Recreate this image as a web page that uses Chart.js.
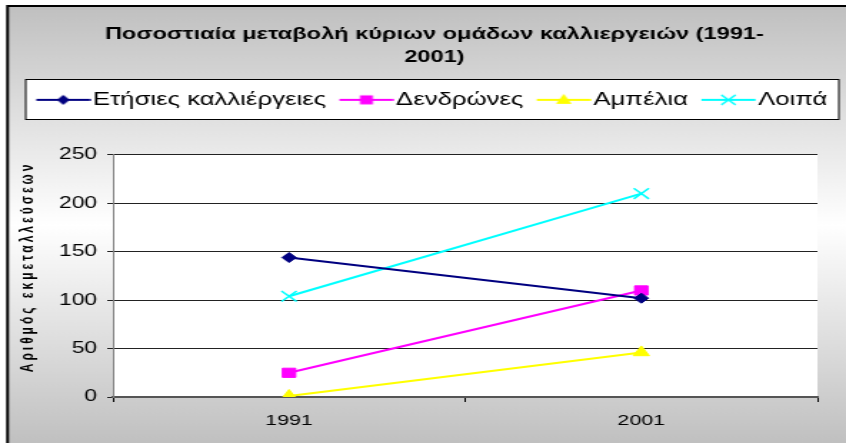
<!DOCTYPE html>
<html>
<head>
<meta charset="utf-8">
<script src="https://cdn.jsdelivr.net/npm/chart.js@4"></script>
<style>
  html, body { margin: 0; padding: 0; background: #fff; }
</style>
</head>
<body>
<!-- the original picture is stretched sideways, so the canvas is drawn narrow and widened by CSS -->
<canvas id="myChart" width="592" height="443" style="width:846px;height:443px;display:block"></canvas>
<script>
// data
var years = ['1991', '2001'];
var seriesNames = ['Ετήσιες καλλιέργειες', 'Δενδρώνες', 'Αμπέλια', 'Λοιπά'];
var annualCrops = [144, 102];
var orchards = [25, 110];
var vineyards = [1, 46];
var others = [104, 210];
var yTicks = [0, 50, 100, 150, 200, 250];

var seriesColors = ['#000080', '#ff00ff', '#ffff00', '#00ffff'];
var seriesMarkers = ['rectRot', 'rect', 'triangle', 'crossRot'];
var markerRadius = [5, 6.5, 6.5, 7.5];
var FONT = "'Liberation Sans', Arial, sans-serif";

// little "line + marker" picture for the legend
function legendIcon(color, marker) {
    var c = document.createElement('canvas');
    c.width = 55;
    c.height = 20;
    var g = c.getContext('2d');
    g.strokeStyle = color;
    g.fillStyle = color;
    g.lineWidth = 2;
    g.beginPath();
    g.moveTo(16.9, 10);
    g.lineTo(54.7, 10);
    g.stroke();
    var x = 35.8, y = 10;
    g.beginPath();
    if (marker === 'rectRot') {
        g.moveTo(x - 4.5, y); g.lineTo(x, y - 5); g.lineTo(x + 4.5, y); g.lineTo(x, y + 5);
        g.closePath(); g.fill();
    } else if (marker === 'rect') {
        g.fillRect(x - 4.5, y - 4.5, 9, 9);
    } else if (marker === 'triangle') {
        g.moveTo(x, y - 6); g.lineTo(x + 5.5, y + 4); g.lineTo(x - 5.5, y + 4);
        g.closePath(); g.fill();
    } else {
        g.lineWidth = 1.5;
        g.moveTo(x - 5, y - 5); g.lineTo(x + 5, y + 5);
        g.moveTo(x + 5, y - 5); g.lineTo(x - 5, y + 5);
        g.stroke();
    }
    return c;
}

var allSeries = [annualCrops, orchards, vineyards, others];
var datasets = [];
for (var i = 0; i < allSeries.length; i++) {
    datasets.push({
        label: seriesNames[i],
        data: allSeries[i],
        borderColor: seriesColors[i],
        backgroundColor: seriesColors[i],
        borderWidth: 2,
        pointStyle: seriesMarkers[i],
        pointRadius: markerRadius[i],
        pointBorderWidth: seriesMarkers[i] === 'crossRot' ? 1.5 : 1,
        pointHoverRadius: markerRadius[i],
        tension: 0
    });
}

// grey gradient, frame, white plot area and the legend box
var chartBackground = {
    id: 'chartBackground',
    beforeInit: function (chart) {
        // extra room under the legend
        var originalFit = chart.legend.fit;
        chart.legend.fit = function () {
            originalFit.bind(chart.legend)();
            this.height += 36;
        };
    },
    afterLayout: function (chart) {
        // the axis title is spread out and sits a little higher, like in the original
        var s = chart.scales.y;
        if (!s._spread) {
            var drawTitle = s.drawTitle;
            s.drawTitle = function () {
                var c = this.ctx;
                c.save();
                c.translate(0, -9);
                c.letterSpacing = '3px';
                drawTitle.apply(this, arguments);
                c.restore();
                c.letterSpacing = '0px';
            };
            s._spread = true;
        }
    },
    beforeDraw: function (chart) {
        var ctx = chart.ctx, w = chart.width, h = chart.height;
        ctx.save();
        ctx.fillStyle = '#ffffff';
        ctx.fillRect(0, 0, w, h);
        var grad = ctx.createLinearGradient(0, 7, 0, h);
        grad.addColorStop(0, '#c0c0c0');
        grad.addColorStop(0.5, '#ffffff');
        grad.addColorStop(1, '#c0c0c0');
        ctx.fillStyle = grad;
        ctx.fillRect(6, 7, w - 6, h - 7);
        ctx.strokeStyle = '#000';
        ctx.lineWidth = 2;
        ctx.beginPath();
        ctx.moveTo(5.3, h);
        ctx.lineTo(5.3, 6);
        ctx.lineTo(w, 6);
        ctx.stroke();

        var a = chart.chartArea;
        ctx.fillStyle = '#ffffff';
        ctx.fillRect(a.left, a.top, a.right - a.left, a.bottom - a.top);

        var boxes = chart.legend.legendHitBoxes;
        if (boxes && boxes.length) {
            var first = boxes[0], last = boxes[boxes.length - 1];
            var left = first.left + 2;
            var right = last.left + last.width + 8;
            var top = Math.round(first.top - 12) + 0.5;
            ctx.fillStyle = '#ffffff';
            ctx.fillRect(left, top, right - left, 40);
            ctx.strokeStyle = '#000';
            ctx.lineWidth = 1;
            ctx.strokeRect(left, top, right - left, 40);
        }
        ctx.restore();
    }
};

var ctx = document.getElementById('myChart').getContext('2d');
var myChart = new Chart(ctx, {
    type: 'line',
    data: {
        labels: years,
        datasets: datasets
    },
    options: {
        responsive: false,
        animation: false,
        devicePixelRatio: 1,
        layout: {
            padding: { top: 0, left: 16, right: 0, bottom: 0 }
        },
        plugins: {
            title: {
                display: true,
                text: ['Ποσοστιαία μεταβολή κύριων ομάδων καλλιεργειών (1991-', '2001)'],
                color: '#000',
                font: { family: FONT, size: 16.5, weight: 'bold', lineHeight: 1.45 },
                padding: { top: 22, bottom: 21 }
            },
            legend: {
                display: true,
                position: 'top',
                align: 'start',
                labels: {
                    color: '#000',
                    font: { family: FONT, size: 18 },
                    usePointStyle: true,
                    pointStyleWidth: 40,
                    padding: 0,
                    generateLabels: function (chart) {
                        return chart.data.datasets.map(function (ds, i) {
                            return {
                                text: ds.label,
                                pointStyle: legendIcon(seriesColors[i], seriesMarkers[i]),
                                fillStyle: seriesColors[i],
                                strokeStyle: seriesColors[i],
                                lineWidth: 0,
                                fontColor: '#000',
                                hidden: false,
                                datasetIndex: i
                            };
                        });
                    }
                }
            },
            tooltip: { enabled: false }
        },
        scales: {
            x: {
                offset: true,
                grid: {
                    offset: true,
                    drawOnChartArea: false,
                    drawTicks: true,
                    tickLength: 5,
                    color: '#000'
                },
                border: { color: '#555', width: 2 },
                ticks: {
                    color: '#000',
                    font: { family: FONT, size: 15 },
                    padding: 10,
                    maxRotation: 0
                },
                afterFit: function (scale) { scale.height = 46; }
            },
            y: {
                min: 0,
                max: 250,
                afterBuildTicks: function (scale) {
                    scale.ticks = yTicks.map(function (v) { return { value: v }; });
                },
                grid: {
                    color: '#222',
                    lineWidth: 1,
                    tickLength: 4
                },
                border: { color: '#808080', width: 1 },
                ticks: {
                    color: '#000',
                    font: { family: FONT, size: 16 },
                    padding: 7
                },
                title: {
                    display: true,
                    text: 'Αριθμός εκμεταλλεύσεων',
                    color: '#000',
                    font: { family: FONT, size: 12, weight: 'bold', lineHeight: 0.6 },
                    padding: { top: 0, bottom: 0 }
                },
                afterFit: function (scale) { scale.width = 63; }
            },
            yR: {
                position: 'right',
                display: true,
                grid: { display: false },
                border: { display: false },
                ticks: { display: false },
                afterFit: function (scale) { scale.width = 20; }
            }
        }
    },
    plugins: [chartBackground]
});
</script>
</body>
</html>
